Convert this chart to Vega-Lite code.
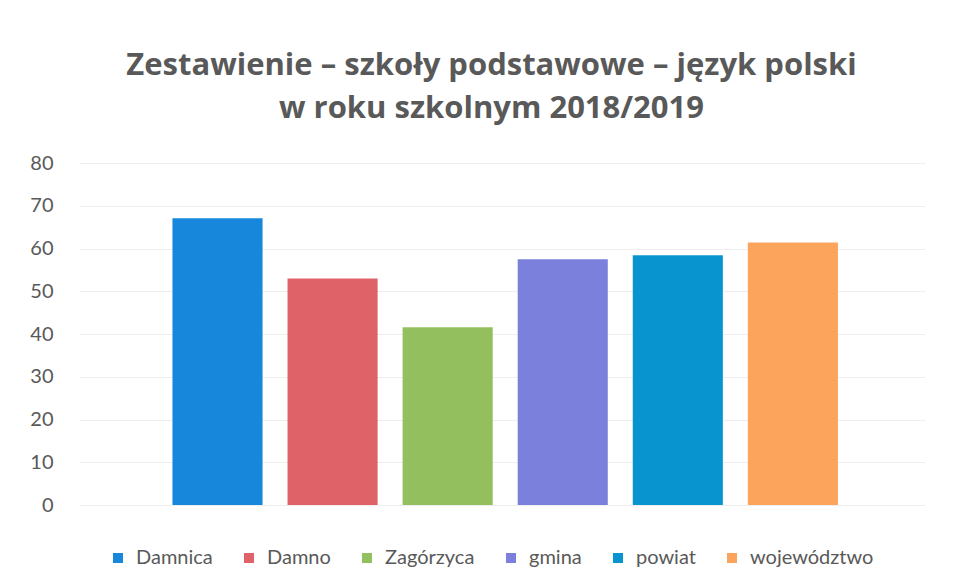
{
  "$schema": "https://vega.github.io/schema/vega-lite/v6.json",
  "autosize": {"type": "none"},
  "padding": {"left": 80, "top": 163, "right": 29, "bottom": 82},
  "width": 845,
  "height": 342,
  "background": "white",
  "title": {
    "text": ["Zestawienie – szkoły podstawowe – język polski", "w roku szkolnym 2018/2019"],
    "anchor": "middle",
    "frame": "group",
    "font": "Open Sans",
    "fontSize": 31,
    "fontWeight": "bold",
    "color": "#595959",
    "lineHeight": 43,
    "offset": 28,
    "dx": -11
  },
  "data": {
    "values": [
      {"nazwa": "Damnica", "wynik": 67.1},
      {"nazwa": "Damno", "wynik": 53.0},
      {"nazwa": "Zagórzyca", "wynik": 41.6},
      {"nazwa": "gmina", "wynik": 57.5},
      {"nazwa": "powiat", "wynik": 58.4},
      {"nazwa": "województwo", "wynik": 61.4}
    ]
  },
  "mark": {"type": "bar"},
  "encoding": {
    "x": {
      "field": "nazwa",
      "type": "nominal",
      "sort": null,
      "axis": null,
      "scale": {"paddingInner": 0.217, "paddingOuter": 0.78, "align": 0.515}
    },
    "y": {
      "field": "wynik",
      "type": "quantitative",
      "scale": {"domain": [0, 80]},
      "axis": {
        "title": null,
        "values": [0, 10, 20, 30, 40, 50, 60, 70, 80],
        "domain": false,
        "ticks": false,
        "labelPadding": 27,
        "labelFont": "Lato",
        "labelFontSize": 20,
        "labelColor": "#595959",
        "gridColor": "#eeeeee",
        "gridWidth": 1
      }
    },
    "color": {
      "field": "nazwa",
      "type": "nominal",
      "sort": null,
      "scale": {
        "domain": ["Damnica", "Damno", "Zagórzyca", "gmina", "powiat", "województwo"],
        "range": ["#1787dc", "#de6268", "#93bf5e", "#7b80dc", "#0895cf", "#fca35c"]
      },
      "legend": {
        "title": null,
        "orient": "none",
        "direction": "horizontal",
        "legendX": 28,
        "legendY": 385,
        "padding": 0,
        "symbolType": "square",
        "symbolSize": 100,
        "symbolStrokeWidth": 0,
        "labelOffset": 8,
        "columnPadding": 26,
        "labelFont": "Lato",
        "labelFontSize": 20,
        "labelColor": "#595959"
      }
    }
  },
  "config": {"view": {"stroke": null}}
}
